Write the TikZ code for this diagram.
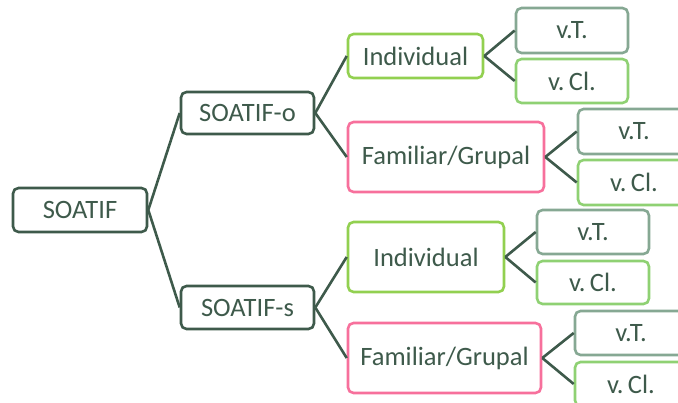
\documentclass[tikz,border=0pt]{standalone}
\usepackage{fontspec}
\setmainfont{Carlito}
\definecolor{ink}{HTML}{3E5A4B}
\definecolor{leaf}{HTML}{92D050}
\definecolor{rose}{HTML}{F7709C}
\definecolor{sage}{HTML}{86A893}
\definecolor{mint}{HTML}{8FD173}
\begin{document}
\begin{tikzpicture}[x=1pt,y=-1pt,
  box/.style={draw=ink,rounded corners=5.5pt,line width=2.6pt,inner sep=0pt,
    text=ink,font=\fontsize{26.5}{30}\selectfont,fill=white},
  ind/.style={box,draw=leaf},
  fam/.style={box,draw=rose},
  vt/.style={box,draw=sage},
  vc/.style={box,draw=mint},
  link/.style={draw=ink,line width=2.6pt}]
\useasboundingbox (0,0) rectangle (678,403);
\clip (0,0) rectangle (678,403);
% first level
\node[box,minimum width=134pt,minimum height=44pt] (root) at (80,210) {SOATIF};
\node[box,minimum width=133pt,minimum height=42pt] (so) at (247.5,113) {SOATIF-o};
\node[box,minimum width=133pt,minimum height=43pt] (ss) at (247.5,307.5) {SOATIF-s};
% second level
\node[ind,minimum width=135pt,minimum height=44pt] (i1) at (415.5,56) {Individual};
\node[fam,minimum width=196pt,minimum height=70pt] (f1) at (446,157) {Familiar/Grupal};
\node[ind,minimum width=156pt,minimum height=70pt] (i2) at (426,257) {Individual};
\node[fam,minimum width=193pt,minimum height=70pt] (f2) at (444.5,358) {Familiar/Grupal};
% leaves
\node[vt,minimum width=112pt,minimum height=45pt] (t1) at (572,30.5) {v.T.};
\node[vc,minimum width=112pt,minimum height=44pt] (c1) at (572,81) {v.\,Cl.};
\node[vt,minimum width=112pt,minimum height=45pt] (t2) at (634,131.5) {v.T.};
\node[vc,minimum width=112pt,minimum height=45pt] (c2) at (634,182.5) {v.\,Cl.};
\node[vt,minimum width=112pt,minimum height=44pt] (t3) at (593,232) {v.T.};
\node[vc,minimum width=112pt,minimum height=43pt] (c3) at (593,282.5) {v.\,Cl.};
\node[vt,minimum width=112pt,minimum height=44pt] (t4) at (631,333) {v.T.};
\node[vc,minimum width=112pt,minimum height=44pt] (c4) at (631,384) {v.\,Cl.};
% connectors
\draw[link] (root.east) -- (so.west);
\draw[link] (root.east) -- (ss.west);
\draw[link] (so.east) -- (i1.west);
\draw[link] (so.east) -- (f1.west);
\draw[link] (ss.east) -- (i2.west);
\draw[link] (ss.east) -- (f2.west);
\draw[link] (i1.east) -- (t1.west);
\draw[link] (i1.east) -- (c1.west);
\draw[link] (f1.east) -- (t2.west);
\draw[link] (f1.east) -- (c2.west);
\draw[link] (i2.east) -- (t3.west);
\draw[link] (i2.east) -- (c3.west);
\draw[link] (f2.east) -- (t4.west);
\draw[link] (f2.east) -- (c4.west);
\end{tikzpicture}
\end{document}
